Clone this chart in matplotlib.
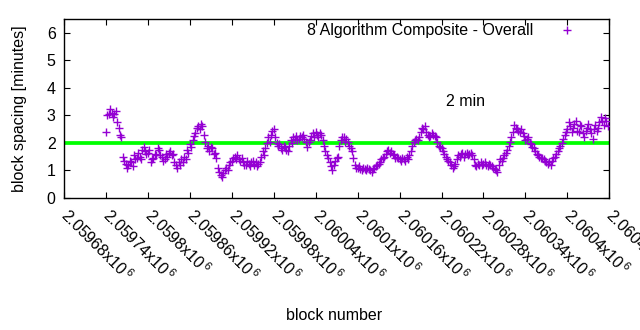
import numpy as np
import matplotlib.pyplot as plt

plt.rcParams['font.family'] = ['Liberation Sans', 'DejaVu Sans']
plt.rcParams['mathtext.fontset'] = 'custom'
plt.rcParams['mathtext.rm'] = 'Liberation Sans'

# block numbers (every 2nd block) and block spacing in minutes
block_start = 2059740
block_step = 2
spacing = [
    2.4, 3.0, 3.05, 3.25, 3.1, 2.95, 3.05, 3.15, 2.75, 2.55,
    2.3, 2.2, 1.5, 1.35, 1.25, 1.1, 1.2, 1.35, 1.3, 1.15,
    1.55, 1.4, 1.45, 1.65, 1.5, 1.4, 1.75, 1.85, 1.7, 1.6,
    1.65, 1.75, 1.3, 1.4, 1.45, 1.6, 1.55, 1.8, 1.75, 1.55,
    1.5, 1.35, 1.4, 1.6, 1.5, 1.65, 1.7, 1.55, 1.6, 1.3,
    1.2, 1.1, 1.3, 1.2, 1.4, 1.3, 1.5, 1.4, 1.75, 1.65,
    1.95, 1.85, 2.1, 2.25, 2.35, 2.55, 2.6, 2.5, 2.7, 2.6,
    2.3, 2.05, 1.8, 1.9, 1.7, 1.85, 1.8, 1.6, 1.65, 1.45,
    1.1, 0.95, 0.85, 0.75, 0.9, 1.0, 1.1, 1.0, 1.2, 1.3,
    1.35, 1.45, 1.5, 1.4, 1.55, 1.4, 1.35, 1.45, 1.3, 1.2,
    1.2, 1.35, 1.25, 1.15, 1.3, 1.35, 1.2, 1.3, 1.15, 1.25,
    1.3, 1.5, 1.7, 1.55, 1.8, 2.0, 2.2, 2.05, 2.3, 2.45,
    2.5, 2.2, 2.0, 1.9, 1.95, 1.8, 1.75, 1.9, 1.85, 1.75,
    1.7, 1.9, 2.1, 2.0, 2.2, 2.15, 2.25, 2.1, 2.15, 2.25,
    2.2, 2.3, 2.15, 2.05, 1.85, 2.05, 2.1, 2.25, 2.35, 2.2,
    2.4, 2.3, 2.2, 2.35, 2.3, 2.1, 1.9, 1.7, 1.55, 1.45,
    1.3, 1.15, 1.0, 1.2, 1.35, 1.45, 1.5, 1.9, 2.1, 2.2,
    2.2, 2.05, 2.15, 2.05, 1.9, 1.8, 1.7, 1.45, 1.2, 1.1,
    1.1, 1.15, 1.05, 1.0, 1.1, 1.05, 1.0, 1.1, 1.05, 1.0,
    0.95, 1.05, 1.1, 1.15, 1.2, 1.25, 1.3, 1.4, 1.45, 1.5,
    1.6, 1.7, 1.75, 1.65, 1.7, 1.6, 1.55, 1.45, 1.5, 1.45,
    1.4, 1.35, 1.45, 1.4, 1.35, 1.5, 1.4, 1.55, 1.7, 1.9,
    2.05, 2.1, 2.15, 2.1, 2.2, 2.4, 2.55, 2.5, 2.6, 2.4,
    2.3, 2.2, 2.25, 2.35, 2.3, 2.25, 2.2, 2.05, 1.9, 1.85,
    1.8, 1.7, 1.6, 1.5, 1.4, 1.35, 1.3, 1.2, 1.1, 1.15,
    1.25, 1.4, 1.55, 1.5, 1.6, 1.65, 1.5, 1.6, 1.65, 1.55,
    1.6, 1.65, 1.55, 1.4, 1.2, 1.15, 1.25, 1.2, 1.3, 1.2,
    1.25, 1.3, 1.2, 1.15, 1.25, 1.2, 1.15, 1.1, 1.05, 1.0,
    0.95, 1.2, 1.4, 1.35, 1.45, 1.55, 1.65, 1.75, 1.9, 2.05,
    2.2, 2.4, 2.65, 2.55, 2.5, 2.45, 2.4, 2.5, 2.35, 2.25,
    2.1, 2.15, 2.2, 2.0, 1.95, 1.85, 1.8, 1.7, 1.6, 1.55,
    1.5, 1.45, 1.45, 1.4, 1.35, 1.3, 1.25, 1.3, 1.2, 1.35,
    1.45, 1.5, 1.6, 1.7, 1.8, 1.9, 2.0, 2.15, 2.3, 2.4,
    2.5, 2.75, 2.6, 2.4, 2.55, 2.7, 2.8, 2.45, 2.4, 2.65,
    2.6, 2.35, 2.2, 2.45, 2.55, 2.7, 2.5, 2.35, 2.15, 2.5,
    2.65, 2.45, 2.55, 2.75, 2.95, 2.8, 2.65, 2.9, 2.8, 2.6,
]
blocks = block_start + block_step * np.arange(len(spacing))

x_min, x_max = 2059680, 2060460
tick_step = 60
tick_labels = ['2.05968', '2.05974', '2.0598', '2.05986', '2.05992', '2.05998',
               '2.06004', '2.0601', '2.06016', '2.06022', '2.06028', '2.06034',
               '2.0604', '2.06046']
target = 2
fs = 11.5

fig = plt.figure(figsize=(6.4, 3.3), dpi=100)
ax = fig.add_axes([0.1, 0.4, 0.852, 0.5424])

ax.plot([x_min, x_max], [target, target], color='#00ff00', lw=2.7, zorder=2)
ax.plot(blocks, spacing, '+', color='#9400d3', ms=5.5, mew=1.0, zorder=3,
        label='8 Algorithm Composite - Overall')

ax.set_xlim(x_min, x_max)
ax.set_ylim(0, 6.5)
ax.set_yticks(range(0, 7))
ticks = [x_min + tick_step * i for i in range(len(tick_labels))]
ax.set_xticks(ticks)
ax.set_xticklabels([t + r'x10$^{\,6}$' for t in tick_labels], rotation=-45,
                   ha='left', va='center', rotation_mode='anchor')
ax.tick_params(direction='in', top=True, right=True, labelsize=fs, length=4,
               width=0.8, colors='black')
ax.tick_params(axis='x', pad=10)
ax.tick_params(axis='y', pad=6)
for s in ax.spines.values():
    s.set_linewidth(1.0)

ax.text(2060226, 3.5, '2 min', fontsize=fs, va='center', ha='left')
ax.legend(loc='upper right', bbox_to_anchor=(0.949, 1.011), frameon=False,
          fontsize=fs, markerfirst=False, handletextpad=1.6,
          borderaxespad=0, handlelength=1.0)

ax.set_ylabel('block spacing [minutes]', fontsize=fs, va='center')
ax.yaxis.set_label_coords(-0.081, 0.5)
ax.set_xlabel('block number', fontsize=fs, va='center')
ax.xaxis.set_label_coords(0.496, -0.659)

fig.savefig('out.png', dpi=100)
